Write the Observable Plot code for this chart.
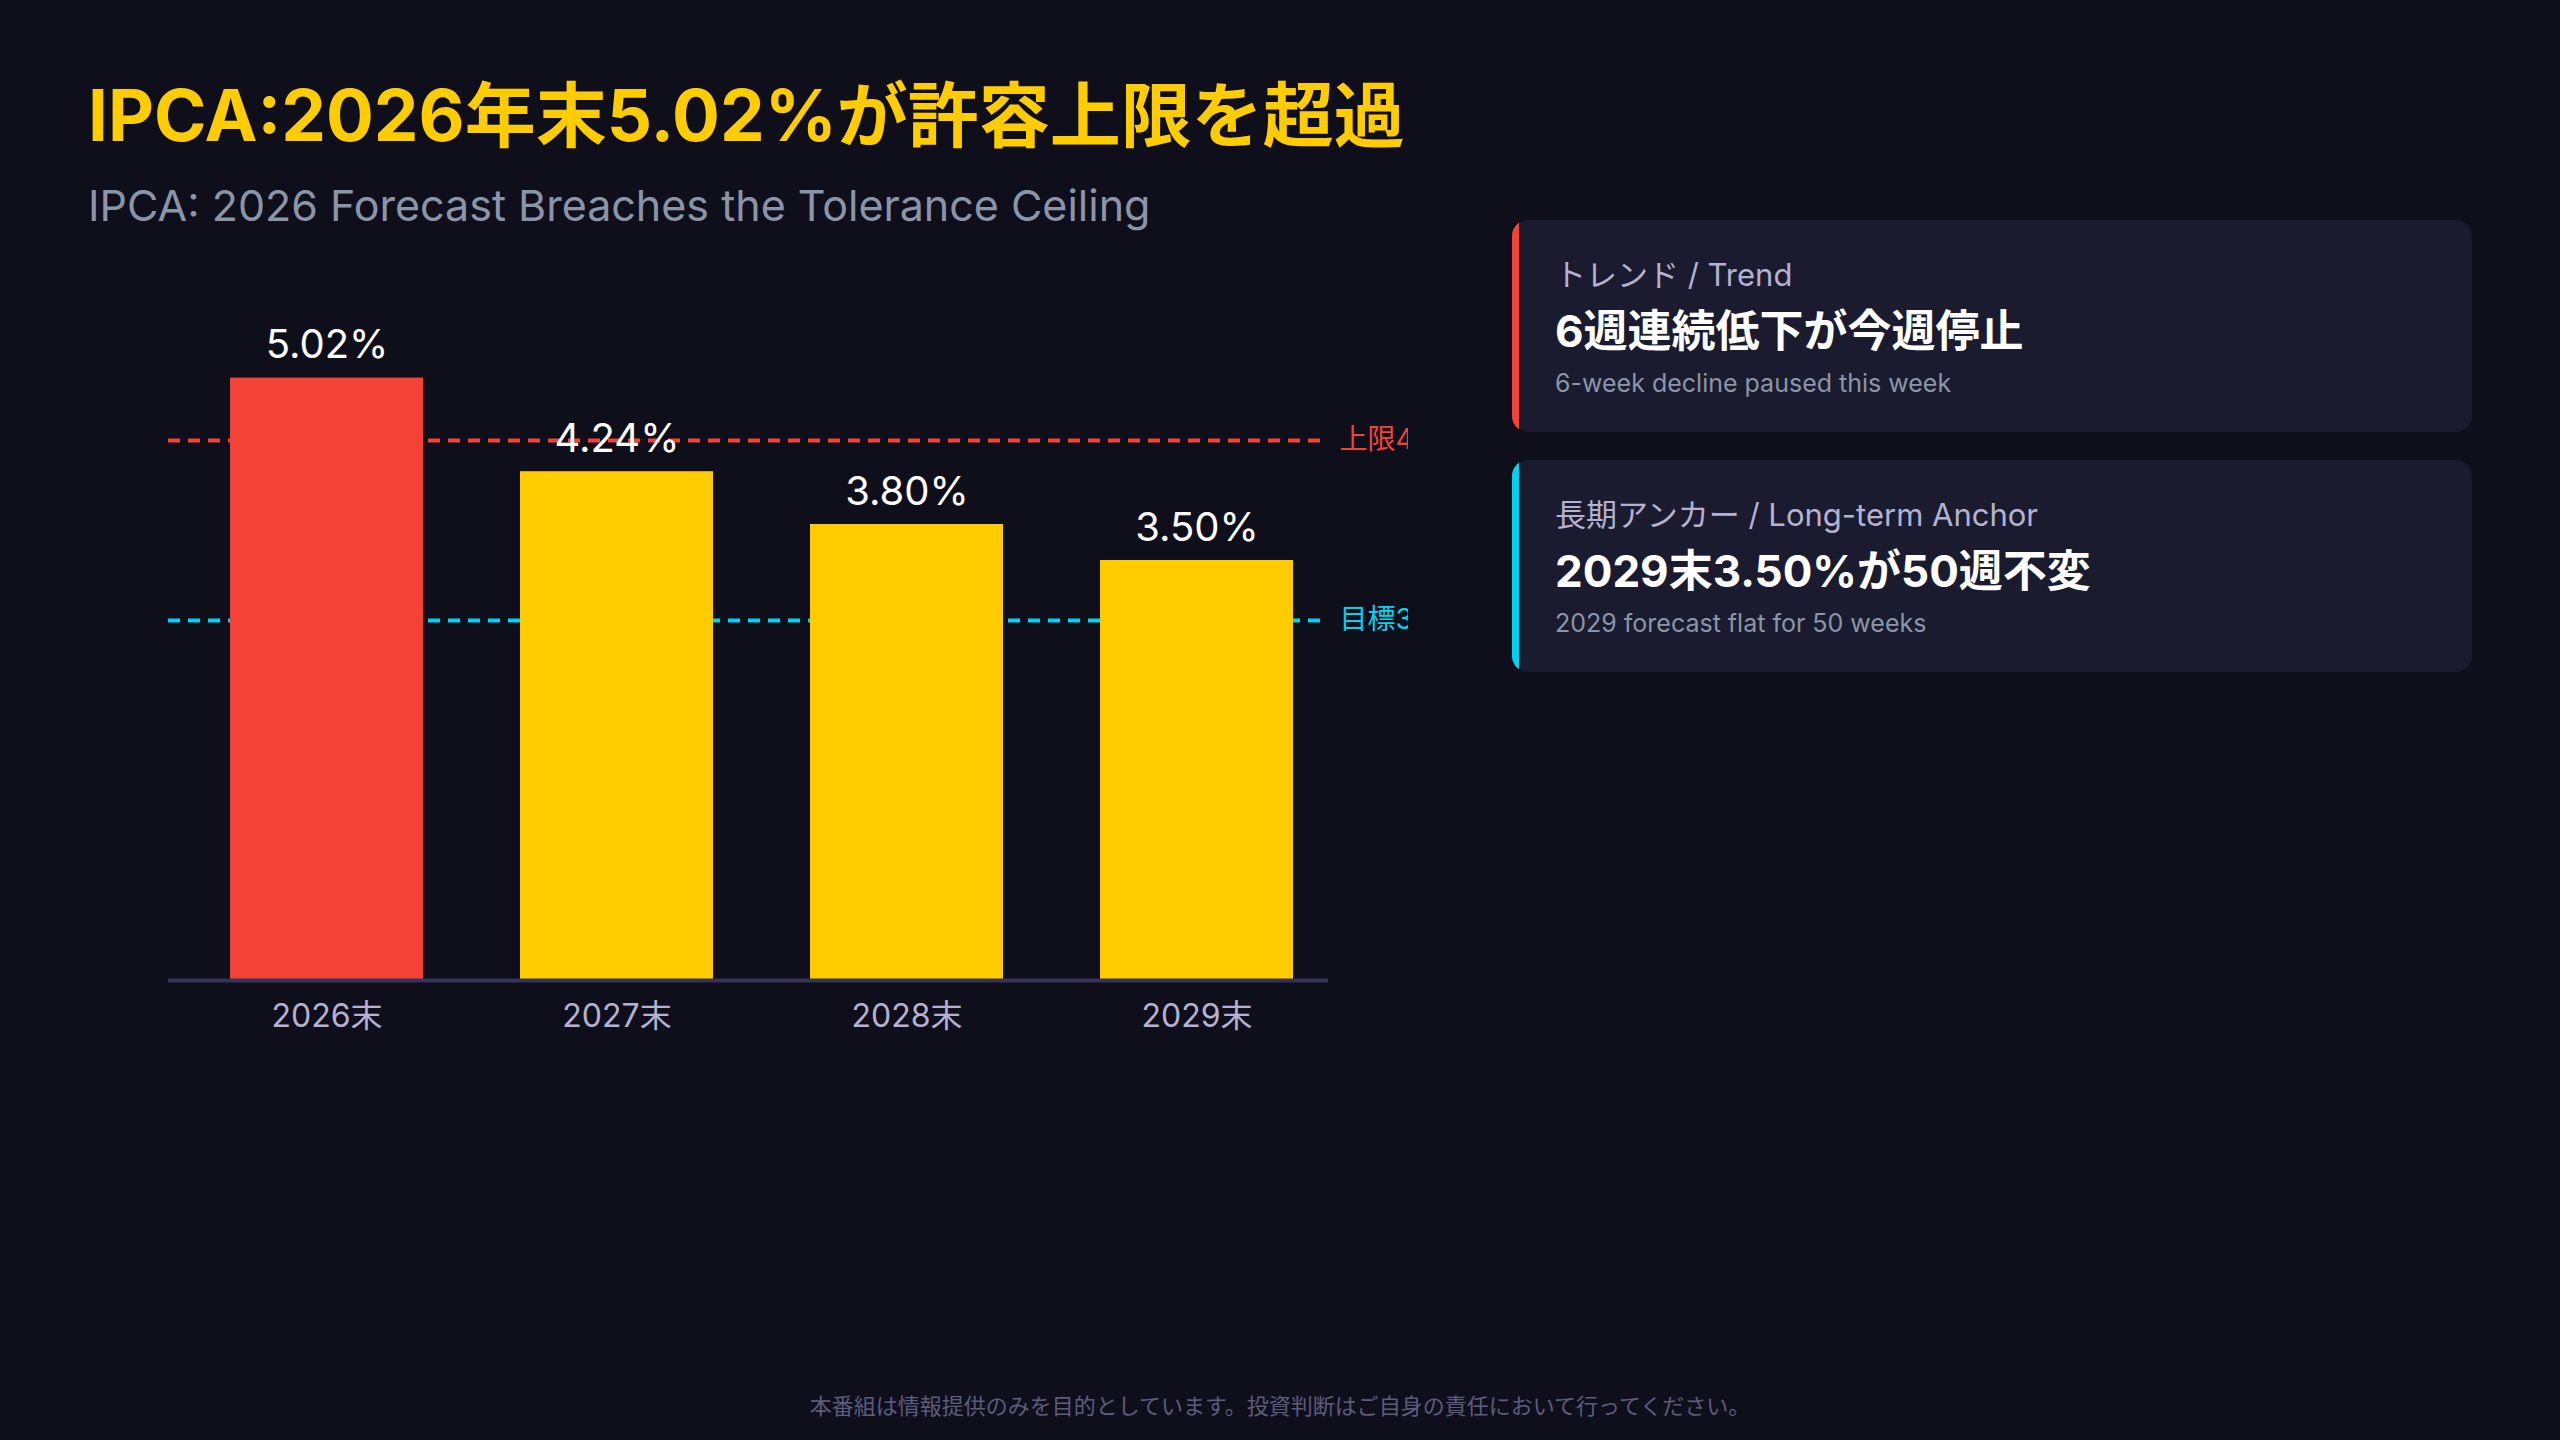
<!DOCTYPE html>
<html>
<head>
<meta charset="utf-8">
<script src="https://cdn.jsdelivr.net/npm/d3@7"></script>
<script src="https://cdn.jsdelivr.net/npm/@observablehq/plot@0.6"></script>
<style>
  html, body { margin: 0; padding: 0; background: #0f0f1c; }
  body { width: 2560px; height: 1440px; position: relative; overflow: hidden;
         font-family: "Inter", "Noto Sans CJK JP", sans-serif; }
  .abs { position: absolute; white-space: nowrap; line-height: 1; }
  #title { left: 88px; top: 80px; font-size: 71px; font-weight: 700; color: #FFCC00; }
  #subtitle { left: 88px; top: 184px; font-size: 43px; color: #8b95a8; }
  #chart { position: absolute; left: 0; top: 240px; }
  .card { position: absolute; left: 1512px; width: 960px; height: 212px; background: #1a1b2e;
          border-radius: 16px; box-sizing: border-box; overflow: hidden; }
  .card .bar { position: absolute; left: 0; top: 0; bottom: 0; width: 7px; }
  .card .lab { left: 43px; top: 39px; font-size: 31px; color: #b4b2d0; }
  .card .big { left: 43px; top: 89px; font-size: 44px; font-weight: 700; color: #ffffff; }
  .card .sm { left: 43px; top: 151px; font-size: 25px; color: #8b95a8; }
  #footer { left: 0; width: 2560px; text-align: center; top: 1395px; font-size: 22px; color: #5c5c7c; }
</style>
</head>
<body>
<div id="title" class="abs"></div>
<div id="subtitle" class="abs"></div>
<div id="chart"></div>
<div id="cards"></div>
<div id="footer" class="abs"></div>
<script>
const titleText = "IPCA:2026年末5.02%が許容上限を超過";
const subtitleText = "IPCA: 2026 Forecast Breaches the Tolerance Ceiling";
const footerText = "本番組は情報提供のみを目的としています。投資判断はご自身の責任において行ってください。";

const categories = ["2026末", "2027末", "2028末", "2029末"];
const values = [5.02, 4.24, 3.80, 3.50];
const valueLabels = ["5.02%", "4.24%", "3.80%", "3.50%"];
const barColors = ["#F44336", "#FFCC00", "#FFCC00", "#FFCC00"];

const refValues = [4.5, 3.0];
const refLabels = ["上限4.5%", "目標3.0%"];
const refColors = ["#F44336", "#00D2F0"];

const cardLabels = ["トレンド / Trend", "長期アンカー / Long-term Anchor"];
const cardHeadlines = ["6週連続低下が今週停止", "2029末3.50%が50週不変"];
const cardNotes = ["6-week decline paused this week", "2029 forecast flat for 50 weeks"];
const cardAccents = ["#F44336", "#00D2F0"];

document.getElementById("title").textContent = titleText;
document.getElementById("subtitle").textContent = subtitleText;
document.getElementById("footer").textContent = footerText;

const bars = categories.map((c, i) => ({cat: c, v: values[i], label: valueLabels[i], color: barColors[i]}));
const refs = refValues.map((v, i) => ({v, label: refLabels[i], color: refColors[i]}));

const chart = Plot.plot({
  width: 1408,
  height: 820,
  marginLeft: 168,
  marginRight: 80,
  marginTop: 20,
  marginBottom: 80,
  style: {background: "transparent", fontFamily: "Inter, 'Noto Sans CJK JP', sans-serif", overflow: "hidden"},
  x: {domain: categories, paddingInner: 1/3, paddingOuter: 1/6, align: 0.64, label: null},
  y: {domain: [0, 6], axis: null},
  marks: [
    Plot.ruleY(refs, {y: "v", stroke: "color", strokeWidth: 4, strokeDasharray: "12,8"}),
    Plot.barY(bars, {x: "cat", y: "v", fill: "color"}),
    Plot.ruleY([0], {stroke: "#34345a", strokeWidth: 4}),
    Plot.text(bars, {x: "cat", y: "v", text: "label", fill: "#ffffff", fontSize: 40, lineAnchor: "bottom", dy: -20}),
    Plot.text(refs, {y: "v", text: "label", fill: "color", frameAnchor: "right", textAnchor: "start", dx: 11, fontSize: 28}),
    Plot.axisX({tickSize: 0, tickPadding: 24, fontSize: 32, fill: "#b4b2d0", label: null})
  ]
});
document.getElementById("chart").appendChild(chart);

const cardsEl = document.getElementById("cards");
const cardTops = [220, 460];
cardLabels.forEach((lab, i) => {
  const c = document.createElement("div");
  c.className = "card";
  c.style.top = cardTops[i] + "px";
  c.innerHTML = `<div class="bar" style="background:${cardAccents[i]}"></div>
    <div class="abs lab"></div><div class="abs big"></div><div class="abs sm"></div>`;
  c.querySelector(".lab").textContent = lab;
  c.querySelector(".big").textContent = cardHeadlines[i];
  c.querySelector(".sm").textContent = cardNotes[i];
  cardsEl.appendChild(c);
});
</script>
</body>
</html>
